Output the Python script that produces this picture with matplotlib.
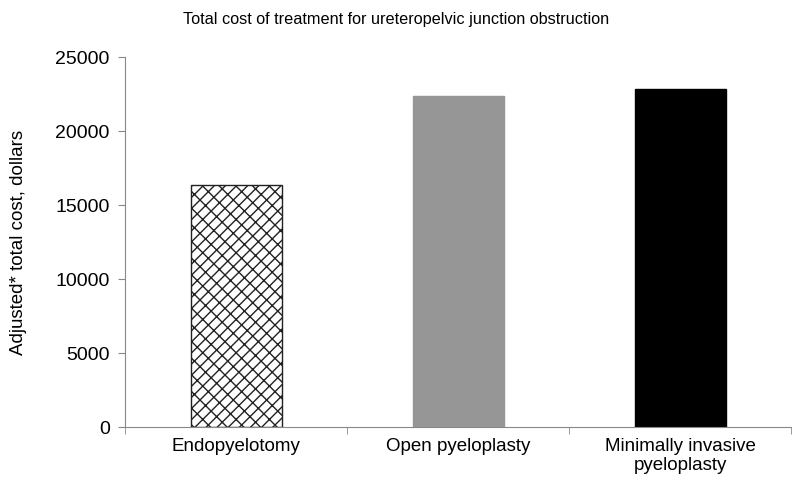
import numpy as np
import matplotlib.pyplot as plt

plt.rcParams['font.family'] = ['Liberation Sans', 'DejaVu Sans']
plt.rcParams['hatch.linewidth'] = 1.0

# datos
categories = ['Endopyelotomy', 'Open pyeloplasty', 'Minimally invasive\npyeloplasty']
costs = [16350, 22380, 22830]
yticks = [0, 5000, 10000, 15000, 20000, 25000]

fig = plt.figure(figsize=(7.92, 4.8), dpi=100)
ax = fig.add_axes([0.158, 0.110, 0.841, 0.771])

x = np.arange(len(categories))
bars = ax.bar(x, costs, width=0.41, color=['white', '#969696', 'black'],
              edgecolor=['#222222', '#969696', 'black'], linewidth=1.0)
bars[0].set_hatch('///\\\\')  # aproximación del patrón de ladrillos

ax.set_xlim(-0.5, 2.5)
ax.set_ylim(0, 25000)
ax.set_yticks(yticks)
ax.set_yticklabels([str(t) for t in yticks], fontsize=14)
ax.set_xticks(x)
ax.set_xticklabels(categories, fontsize=13.5, linespacing=1.1)
ax.set_xticks(np.arange(-0.5, 3.0, 1.0), minor=True)
ax.tick_params(axis='x', which='major', length=0, pad=8)
ax.tick_params(axis='x', which='minor', length=5, color='#888888')
ax.tick_params(axis='y', length=5, color='#888888', pad=6)

for side in ['top', 'right']:
    ax.spines[side].set_visible(False)
for side in ['left', 'bottom']:
    ax.spines[side].set_color('#888888')

ax.set_ylabel('Adjusted* total cost, dollars', fontsize=13.5)
ax.yaxis.set_label_coords(-0.148, 0.5)
fig.text(0.5, 0.975, 'Total cost of treatment for ureteropelvic junction obstruction',
         ha='center', va='top', fontsize=11.7)

fig.savefig('out.png', dpi=100)
